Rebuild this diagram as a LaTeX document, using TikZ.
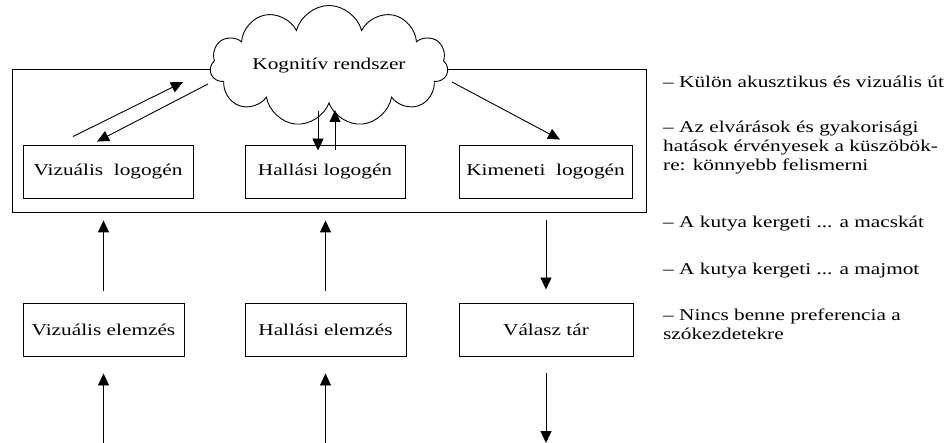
\documentclass[tikz,border=0pt]{standalone}
\usepackage{graphicx}
\usepackage{fontspec}
\setmainfont{Liberation Serif}
\usetikzlibrary{arrows.meta,shapes.symbols}
\newcommand{\stretchx}[1]{\scalebox{1.29}[1]{#1}}

\begin{document}
\begin{tikzpicture}[x=1pt, y=-1pt,
    font=\fontsize{16.5}{19}\selectfont,
    box/.style={draw, line width=0.9pt, minimum height=53pt, inner sep=0pt},
    arr/.style={line width=0.9pt, -{Triangle[length=12pt, width=11pt]}},
    note/.style={anchor=base west, inner sep=0pt}]
\useasboundingbox (0,0) rectangle (950,443);

% lexikon frame and the cloud on its top edge
\node[draw, line width=0.9pt, minimum width=634pt, minimum height=143pt] (lex) at (329,140.5) {};
\node[cloud, cloud puffs=11, cloud ignores aspect, draw, fill=white, line width=0.9pt,
      minimum width=238pt, minimum height=121pt] (kog) at (329,66) {\stretchx{Kognitív rendszer}};

% logogens
\node[box, minimum width=170pt] (vl) at (108,171.5) {\stretchx{Vizuális\ \ logogén}};
\node[box, minimum width=160pt] (hl) at (325,171.5) {\stretchx{Hallási logogén}};
\node[box, minimum width=173pt] (kl) at (545.5,171.5) {\stretchx{Kimeneti\ \ logogén}};

% analysers and output store
\node[box, minimum width=161pt] (ve) at (103.5,329.5) {\stretchx{Vizuális elemzés}};
\node[box, minimum width=161pt] (he) at (325.5,329.5) {\stretchx{Hallási elemzés}};
\node[box, minimum width=174pt] (vt) at (546,329.5) {\stretchx{Válasz tár}};

\coordinate (vin) at (103.5,443);
\coordinate (hin) at (325.5,443);
\coordinate (vout) at (546,443);

% cloud <-> logogens
\draw[arr] ([shift={(-35,-8)}]vl.north) -- ([shift={(-146,16)}]kog.center);
\draw[arr] ([shift={(-121,18)}]kog.center) -- ([shift={(-11,-3)}]vl.north);
\draw[arr] ([shift={(-11,45)}]kog.center) -- ([shift={(-7,6)}]hl.north);
\draw[arr] ([shift={(10,5)}]hl.north) -- ([shift={(6,44)}]kog.center);
\draw[arr] ([shift={(123,16)}]kog.center) -- ([shift={(14.5,-5)}]kl.north);

% vertical flow
\draw[arr, shorten <=12pt, shorten >=8pt] (ve.north) -- (ve.north |- lex.south);
\draw[arr, shorten <=12pt, shorten >=8pt] (he.north) -- (he.north |- lex.south);
\draw[arr, shorten <=8pt, shorten >=13pt] (vt.north |- lex.south) -- (vt.north);
\draw[arr, shorten >=17pt] (vin) -- (ve.south);
\draw[arr, shorten >=17pt] (hin) -- (he.south);
\draw[arr, shorten <=17pt] (vt.south) -- (vout);

% notes
\node[note] (n1) at (663,88) {\stretchx{– Külön akusztikus és vizuális út}};
\node[note] (n2) at (663,133) {\stretchx{\begin{tabular}[t]{@{}l@{}}– Az elvárások és gyakorisági\\hatások érvényesek a küszöbök-\\re: könnyebb felismerni\end{tabular}}};
\node[note] (n3) at (663,228) {\stretchx{– A kutya kergeti ... a macskát}};
\node[note] (n4) at (663,275) {\stretchx{– A kutya kergeti ... a majmot}};
\node[note] (n5) at (663,321) {\stretchx{\begin{tabular}[t]{@{}l@{}}– Nincs benne preferencia a\\szókezdetekre\end{tabular}}};
\end{tikzpicture}
\end{document}
